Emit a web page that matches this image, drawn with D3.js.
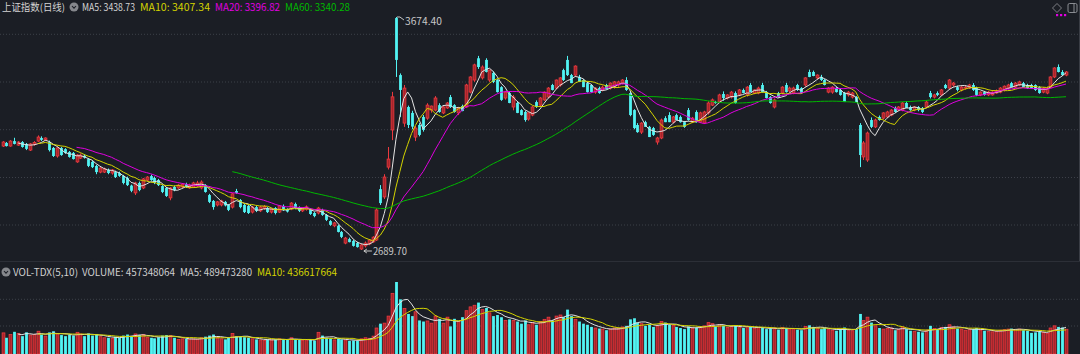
<!DOCTYPE html>
<html lang="zh-CN">
<head>
<meta charset="UTF-8">
<title>上证指数(日线)</title>
<script src="https://d3js.org/d3.v7.min.js"></script>
<style>
  html, body { margin: 0; padding: 0; background: #1b1e25; }
  svg { display: block; }
  text { font-family: "Noto Sans CJK SC", "Microsoft YaHei", sans-serif; font-size: 10px; }
</style>
</head>
<body>
<svg width="1080" height="354"></svg>
<script>
// [开, 高, 低, 收]
const candles = [
  [3129,3150,3125,3146],[3142,3146,3127,3129],[3129,3154,3126,3150],[3150,3164,3136,3138],[3133,3150,3130,3146],
  [3146,3150,3122,3125],[3138,3142,3112,3117],[3112,3142,3108,3138],[3136,3150,3130,3144],[3150,3174,3146,3167],
  [3163,3170,3150,3155],[3155,3166,3150,3163],[3146,3152,3106,3112],[3121,3125,3083,3087],[3087,3124,3080,3121],
  [3121,3125,3088,3091],[3116,3120,3096,3100],[3104,3108,3080,3083],[3100,3104,3072,3074],[3062,3095,3058,3091],
  [3078,3098,3074,3091],[3088,3094,3076,3080],[3074,3078,3040,3045],[3062,3066,3036,3040],[3045,3049,3010,3019],
  [3019,3040,3014,3036],[3019,3038,3015,3032],[3028,3034,3010,3015],[3015,3032,3008,3028],[3019,3025,2994,2998],
  [3015,3021,2999,3003],[3003,3007,2967,2973],[2994,3000,2960,2964],[2962,2966,2934,2940],[2931,2978,2922,2973],
  [2973,2979,2938,2943],[2952,2994,2947,2990],[2985,3002,2980,2998],[3002,3008,2982,2985],[2994,3000,2968,2973],
  [2985,2990,2960,2964],[2960,2964,2930,2935],[2952,2956,2914,2918],[2910,2956,2900,2952],[2956,2962,2938,2943],
  [2952,2968,2948,2964],[2956,2972,2952,2968],[2968,2974,2952,2956],[2952,2970,2948,2962],[2956,2978,2952,2973],
  [2960,2982,2956,2973],[2952,2984,2946,2977],[2964,2968,2932,2935],[2922,2927,2888,2893],[2897,2901,2860,2871],
  [2880,2897,2874,2893],[2880,2902,2874,2897],[2893,2897,2874,2878],[2880,2884,2854,2859],[2871,2930,2865,2927],
  [2939,2948,2927,2931],[2901,2905,2866,2871],[2880,2884,2846,2850],[2876,2880,2842,2846],[2850,2876,2844,2871],
  [2871,2876,2850,2855],[2855,2876,2850,2871],[2866,2880,2860,2874],[2867,2871,2846,2850],[2850,2866,2844,2863],
  [2867,2871,2840,2846],[2850,2880,2846,2876],[2876,2882,2855,2859],[2862,2866,2848,2852],[2863,2892,2858,2888],
  [2884,2890,2862,2867],[2871,2874,2850,2855],[2855,2870,2850,2867],[2862,2878,2856,2872],[2863,2867,2838,2842],
  [2846,2850,2828,2833],[2846,2872,2840,2867],[2859,2864,2834,2838],[2838,2842,2812,2817],[2812,2816,2792,2796],
  [2792,2808,2786,2804],[2792,2796,2764,2766],[2766,2770,2740,2745],[2719,2745,2714,2740],[2736,2742,2722,2723],
  [2728,2732,2704,2707],[2719,2724,2700,2702],[2694,2715,2689.7,2711],[2707,2726,2700,2719],[2715,2736,2710,2732],
  [2724,2748,2720,2744],[2732,2866,2728,2859],[2947,2964,2880,2888],[2914,3010,2905,2998],[3040,3125,3030,3074],
  [3197,3358,3154,3337],[3670,3674.4,3421,3493],[3429,3436,3252,3366],[3226,3387,3210,3374],[3294,3300,3205,3218],
  [3269,3278,3200,3211],[3167,3214,3150,3205],[3218,3226,3170,3176],[3252,3260,3190,3197],[3247,3310,3240,3302],
  [3281,3300,3270,3298],[3281,3340,3276,3332],[3302,3310,3270,3273],[3269,3298,3264,3294],[3290,3315,3286,3311],
  [3336,3345,3290,3294],[3302,3306,3270,3273],[3269,3292,3260,3290],[3298,3304,3276,3277],[3294,3392,3290,3387],
  [3357,3424,3352,3421],[3408,3477,3400,3472],[3500,3510,3455,3463],[3417,3470,3410,3463],[3493,3500,3440,3442],
  [3408,3452,3400,3450],[3438,3445,3395,3400],[3408,3412,3355,3357],[3378,3382,3320,3324],[3332,3362,3325,3357],
  [3353,3360,3310,3311],[3294,3345,3280,3336],[3311,3318,3268,3269],[3281,3285,3258,3260],[3273,3278,3232,3239],
  [3243,3272,3236,3269],[3260,3298,3255,3294],[3315,3322,3290,3294],[3302,3336,3298,3332],[3324,3360,3320,3357],
  [3336,3378,3330,3374],[3387,3392,3364,3366],[3374,3410,3368,3408],[3387,3420,3380,3417],[3450,3456,3404,3408],
  [3493,3510,3425,3429],[3429,3434,3395,3395],[3429,3470,3425,3467],[3421,3430,3400,3400],[3408,3412,3378,3378],
  [3395,3400,3355,3357],[3387,3390,3355,3357],[3357,3378,3350,3374],[3374,3380,3350,3353],[3366,3385,3360,3378],
  [3387,3392,3368,3370],[3374,3398,3368,3395],[3378,3404,3372,3400],[3387,3405,3380,3400],[3395,3412,3390,3408],
  [3408,3420,3362,3366],[3353,3358,3255,3260],[3281,3285,3200,3205],[3218,3226,3185,3188],[3188,3230,3180,3226],
  [3230,3236,3210,3210],[3210,3214,3167,3167],[3205,3210,3172,3176],[3146,3168,3135,3163],[3163,3245,3158,3239],
  [3247,3255,3230,3230],[3260,3272,3230,3230],[3230,3256,3225,3252],[3260,3266,3238,3239],[3252,3258,3228,3230],
  [3230,3235,3206,3210],[3281,3290,3236,3239],[3230,3252,3226,3247],[3273,3280,3228,3230],[3230,3274,3226,3269],
  [3226,3278,3222,3273],[3269,3318,3262,3311],[3302,3330,3298,3324],[3315,3320,3308,3311],[3315,3350,3310,3345],
  [3349,3360,3320,3332],[3332,3348,3326,3345],[3336,3362,3330,3357],[3353,3360,3308,3311],[3345,3370,3340,3366],
  [3366,3372,3352,3353],[3345,3382,3338,3378],[3387,3395,3357,3357],[3353,3368,3348,3366],[3353,3380,3348,3374],
  [3387,3396,3355,3357],[3357,3362,3330,3332],[3336,3340,3308,3311],[3294,3330,3288,3324],[3353,3358,3334,3336],
  [3353,3382,3348,3378],[3387,3396,3355,3357],[3362,3380,3356,3374],[3353,3380,3348,3374],[3387,3392,3362,3366],
  [3374,3378,3350,3353],[3387,3420,3380,3417],[3442,3452,3420,3421],[3442,3448,3424,3425],[3417,3432,3412,3429],
  [3421,3430,3404,3408],[3408,3412,3385,3387],[3357,3378,3352,3374],[3357,3382,3350,3378],[3374,3380,3355,3357],
  [3366,3370,3342,3345],[3353,3358,3315,3315],[3345,3362,3338,3357],[3336,3358,3330,3353],[3336,3340,3312,3315],
  [3218,3226,3040,3091],[3083,3150,3070,3142],[3070,3190,3062,3184],[3239,3250,3205,3210],[3210,3245,3205,3239],
  [3252,3258,3236,3239],[3247,3272,3242,3269],[3252,3278,3248,3273],[3260,3285,3255,3281],[3290,3296,3270,3273],
  [3281,3298,3276,3294],[3281,3315,3276,3311],[3311,3318,3290,3290],[3294,3300,3278,3281],[3281,3298,3276,3294],
  [3294,3298,3276,3281],[3290,3294,3268,3273],[3294,3322,3290,3315],[3353,3362,3330,3336],[3336,3350,3330,3345],
  [3353,3360,3340,3345],[3345,3370,3340,3366],[3387,3392,3370,3374],[3374,3412,3368,3408],[3387,3400,3380,3395],
  [3378,3384,3360,3366],[3366,3382,3360,3378],[3374,3385,3368,3378],[3374,3392,3370,3387],[3387,3395,3362,3366],
  [3374,3380,3340,3345],[3345,3360,3340,3357],[3357,3362,3342,3345],[3345,3362,3340,3357],[3345,3360,3342,3357],
  [3353,3368,3350,3362],[3357,3378,3352,3374],[3366,3385,3360,3382],[3374,3392,3370,3387],[3395,3400,3378,3378],
  [3378,3400,3374,3395],[3387,3405,3382,3400],[3395,3400,3378,3378],[3387,3392,3370,3374],[3387,3392,3372,3374],
  [3387,3390,3362,3366],[3378,3382,3350,3353],[3357,3378,3352,3374],[3353,3380,3348,3374],[3378,3424,3374,3421],
  [3421,3462,3416,3459],[3463,3474,3440,3442],[3442,3450,3425,3429],[3429,3446,3424,3442]
];

// 成交量, 单位: 百万
const volumes = [
  390,300,360,410,380,330,400,350,360,420, 360,330,400,420,380,350,330,360,340,400,
  370,330,380,340,370,320,300,300,290,320, 300,340,360,330,370,350,360,310,300,290,
  310,340,350,340,300,270,280,280,270,280, 270,300,320,340,360,300,280,270,300,380,
  330,320,310,300,280,270,260,250,270,260, 270,280,270,260,300,270,260,250,260,270,
  250,400,340,300,290,260,280,270,260,240, 250,240,280,300,290,330,480,560,570,700,
  1120,1330,1010,840,740,700,780,620,600,610, 570,700,650,570,680,510,650,600,680,800,
  870,900,950,820,850,760,700,720,680,620, 640,620,600,560,620,540,580,540,600,640,
  680,620,700,720,680,820,700,640,600,560, 540,500,480,470,460,440,460,480,470,500,
  520,640,660,580,560,520,540,500,520,600, 580,540,530,500,480,460,510,480,490,500,
  520,580,560,510,540,520,490,510,530,500, 480,510,500,470,490,480,460,470,480,450,
  490,480,460,470,450,440,510,530,500,480, 460,480,450,440,430,460,490,440,430,460,
  740,620,680,580,520,480,460,470,480,440, 450,500,460,430,420,410,400,440,520,470,
  460,490,500,540,500,470,460,440,450,460, 480,440,430,420,410,420,440,450,460,470,
  450,460,440,430,390,400,420,400,380,480, 520,500,490,457
];

const maPeriods = [5, 10, 20, 60];
const maColors = ["#e4e4e4", "#d4d400", "#e000e0", "#00b800"];
const volMaPeriods = [5, 10];
const volMaColors = ["#e4e4e4", "#d4d400"];

const titleLabel = "上证指数(日线)";
const maLabels = ["MA5: 3438.73", "MA10: 3407.34", "MA20: 3396.82", "MA60: 3340.28"];
const volLabels = ["VOL-TDX(5,10)", "VOLUME: 457348064", "MA5: 489473280", "MA10: 436617664"];
const volLabelColors = ["#d0d0d0", "#d0d0d0", "#d0d0d0", "#d4d400"];

const upStroke = "#ec3a3f", upFill = "#a6242b", downColor = "#52f4f4";

const svg = d3.select("svg");
const bg = "#1b1e25";

const x = d3.scaleLinear().domain([0, candles.length - 1]).range([2.5, 1066]);
const y = d3.scaleLinear()
  .domain([d3.min(candles, d => d[2]), d3.max(candles, d => d[1])])
  .range([250, 17]);
const yv = d3.scaleLinear().domain([0, d3.max(volumes)]).range([354, 282]);

const bodyW = 2.8;

// 网格
const grid = svg.append("g").attr("stroke", "#3d4049").attr("stroke-dasharray", "1,2");
[34.3, 82, 129.7, 177.5, 225, 299.3, 326].forEach(gy => {
  grid.append("line").attr("x1", 0).attr("x2", 1078).attr("y1", gy).attr("y2", gy);
});
svg.append("line").attr("x1", 0).attr("x2", 1080).attr("y1", 261.5).attr("y2", 261.5)
  .attr("stroke", "#2c2f37");
svg.append("line").attr("x1", 1079.5).attr("x2", 1079.5).attr("y1", 0).attr("y2", 261)
  .attr("stroke", "#3a3d45");

function movingAvg(vals, n) {
  return vals.map((v, i) => i < n - 1 ? null : d3.mean(vals.slice(i - n + 1, i + 1)));
}

// K线
const isUp = d => d[3] >= d[0];
const kg = svg.append("g");
const k = kg.selectAll("g").data(candles).join("g");
k.append("line")
  .attr("x1", (d, i) => Math.round(x(i)) + 0.5).attr("x2", (d, i) => Math.round(x(i)) + 0.5)
  .attr("y1", d => y(d[1])).attr("y2", d => y(d[2]))
  .attr("stroke", d => isUp(d) ? upStroke : downColor);
k.append("rect")
  .attr("x", (d, i) => Math.round(x(i)) + 0.5 - bodyW / 2)
  .attr("width", bodyW)
  .attr("y", d => y(Math.max(d[0], d[3])))
  .attr("height", d => Math.max(1, Math.abs(y(d[0]) - y(d[3]))))
  .attr("fill", d => isUp(d) ? upFill : downColor)
  .attr("stroke", d => isUp(d) ? upStroke : "none")
  .attr("stroke-width", 0.8);

// 均线
const closes = candles.map(d => d[3]);
const line = d3.line().defined(d => d != null).x((d, i) => x(i)).y(d => y(d));
maPeriods.forEach((p, j) => {
  svg.append("path").datum(movingAvg(closes, p))
    .attr("fill", "none").attr("stroke", maColors[j]).attr("stroke-width", 1)
    .attr("d", line);
});

// 成交量
const vg = svg.append("g");
vg.selectAll("rect").data(volumes).join("rect")
  .attr("x", (d, i) => Math.round(x(i)) + 0.5 - bodyW / 2)
  .attr("width", bodyW)
  .attr("y", d => yv(d))
  .attr("height", d => yv(0) - yv(d))
  .attr("fill", (d, i) => isUp(candles[i]) ? upFill : downColor)
  .attr("stroke", (d, i) => isUp(candles[i]) ? upStroke : "none")
  .attr("stroke-width", 0.8);

const vline = d3.line().defined(d => d != null).x((d, i) => x(i)).y(d => yv(d));
volMaPeriods.forEach((p, j) => {
  svg.append("path").datum(movingAvg(volumes, p))
    .attr("fill", "none").attr("stroke", volMaColors[j]).attr("stroke-width", 1)
    .attr("d", vline);
});

// 文字: 数字标签按参考图的宽度压缩
function label(tx, ty, str, color, width) {
  const t = svg.append("text").attr("x", tx).attr("y", ty).attr("fill", color).text(str);
  if (width) t.attr("textLength", width).attr("lengthAdjust", "spacingAndGlyphs");
  return t;
}

// 最高 / 最低标注
const hiIdx = d3.maxIndex(candles, d => d[1]);
const loIdx = d3.minIndex(candles, d => d[2]);
const hx = x(hiIdx), hy = y(candles[hiIdx][1]);
svg.append("path").attr("d", `M${hx + 1},${hy} L${hx + 4},${hy} L${hx + 8},${hy + 3}`)
  .attr("fill", "none").attr("stroke", "#c8c8c8");
label(hx + 9, hy + 8, candles[hiIdx][1].toFixed(2), "#c8c8c8", 37);
const lx = x(loIdx), ly = y(candles[loIdx][2]);
svg.append("path")
  .attr("d", `M${lx + 3},${ly + 1} L${lx + 11},${ly + 1} M${lx + 3},${ly + 1} l3,-2 M${lx + 3},${ly + 1} l3,2`)
  .attr("fill", "none").attr("stroke", "#c8c8c8");
label(lx + 12, ly + 5, candles[loIdx][2].toFixed(2), "#c8c8c8", 34);

// 标题
function dropIcon(cx, cy) {
  svg.append("circle").attr("cx", cx).attr("cy", cy).attr("r", 4.5).attr("fill", "#85878c");
  svg.append("path").attr("d", `M${cx - 2},${cy - 1} L${cx},${cy + 1.2} L${cx + 2},${cy - 1}`)
    .attr("fill", "none").attr("stroke", bg).attr("stroke-width", 1.1);
}
label(2, 11, titleLabel, "#d4d4d4", 63);
dropIcon(74, 7);
const maX = [82, 140, 215, 285];
const maW = [53, 70, 65, 65];
maLabels.forEach((t, j) => label(maX[j], 11, t, j === 0 ? "#d4d4d4" : maColors[j], maW[j]));

dropIcon(6, 272);
const volX = [13, 82, 180, 257];
const volW = [65, 93, 72, 80];
volLabels.forEach((t, j) => label(volX[j], 275.5, t, volLabelColors[j], volW[j]));

// 右上角图标
svg.append("path").attr("d", "M1057,3.5 L1061.5,8 L1057,12.5 L1052.5,8 Z")
  .attr("fill", "none").attr("stroke", "#7c7e84");
svg.append("rect").attr("x", 1068).attr("y", 3.5).attr("width", 9).attr("height", 9).attr("rx", 1.5)
  .attr("fill", "none").attr("stroke", "#8a8c92");
svg.append("line").attr("x1", 1074).attr("x2", 1074).attr("y1", 4).attr("y2", 12).attr("stroke", "#8a8c92");
[1056, 1060, 1064].forEach(dx => {
  svg.append("rect").attr("x", dx).attr("y", 14).attr("width", 2.2).attr("height", 2.2).attr("fill", "#e000e0");
});
</script>
</body>
</html>
